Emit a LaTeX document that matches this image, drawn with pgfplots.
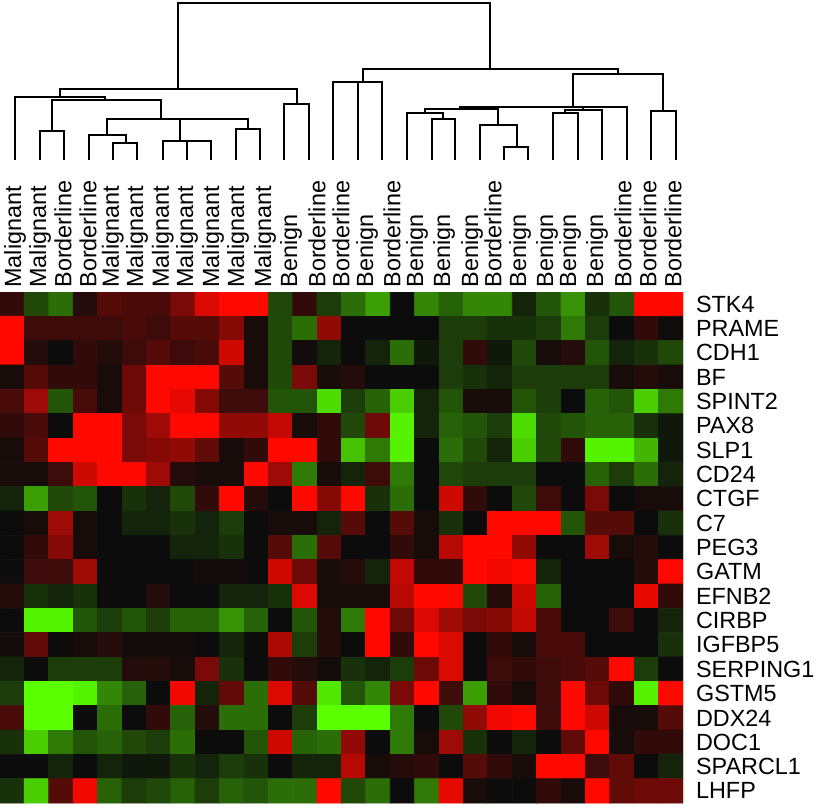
\documentclass[border=0pt]{standalone}
\usepackage{fontspec}
\setmainfont{Liberation Sans}
\usepackage{pgfplots}
\pgfplotsset{compat=1.18}
\pgfplotsset{
  colormap={redgreen}{rgb255=(90,255,0) rgb255=(12,12,12) rgb255=(255,8,0)},
  dend/.style={black, line width=1.1pt, line join=miter, forget plot},
}

\begin{document}
\begin{tikzpicture}
\useasboundingbox (0,0) rectangle (409.5pt,-404.5pt);
% dendrogram, pixel units (y down)
\begin{axis}[at={(0pt,0pt)}, anchor=north west, width=341.5pt, height=80pt,
  scale only axis, xmin=0, xmax=683, ymin=0, ymax=160, y dir=reverse,
  hide axis, clip=false]
\addplot[dend] coordinates {(40,160)(40,131)(64,131)(64,160)};
\addplot[dend] coordinates {(113,160)(113,143)(137,143)(137,160)};
\addplot[dend] coordinates {(89,160)(89,135)(126,135)(126,143)};
\addplot[dend] coordinates {(163,160)(163,141)(211,141)(211,160)};
\addplot[dend] coordinates {(187,160)(187,141)};
\addplot[dend] coordinates {(236,160)(236,129)(260,129)(260,160)};
\addplot[dend] coordinates {(107,135)(107,119)(248,119)(248,129)};
\addplot[dend] coordinates {(180,141)(180,119)};
\addplot[dend] coordinates {(52,131)(52,100)(161,100)(161,119)};
\addplot[dend] coordinates {(15,160)(15,97)(105,97)(105,100)};
\addplot[dend] coordinates {(284,160)(284,104)(309,104)(309,160)};
\addplot[dend] coordinates {(60,97)(60,89)(297,89)(297,104)};
\addplot[dend] coordinates {(333,160)(333,82)(382,82)(382,160)};
\addplot[dend] coordinates {(358,160)(358,82)};
\addplot[dend] coordinates {(432,160)(432,119)(455,119)(455,160)};
\addplot[dend] coordinates {(407,160)(407,113)(443,113)(443,119)};
\addplot[dend] coordinates {(504,160)(504,147)(528,147)(528,160)};
\addplot[dend] coordinates {(480,160)(480,125)(517,125)(517,147)};
\addplot[dend] coordinates {(425,113)(425,109)(498,109)(498,125)};
\addplot[dend] coordinates {(553,160)(553,113)(578,113)(578,160)};
\addplot[dend] coordinates {(565,113)(565,110)(602,110)(602,160)};
\addplot[dend] coordinates {(460,109)(460,107)(627,107)(627,160)};
\addplot[dend] coordinates {(583,110)(583,107)};
\addplot[dend] coordinates {(651,160)(651,111)(676,111)(676,160)};
\addplot[dend] coordinates {(573,107)(573,74)(663,74)(663,111)};
\addplot[dend] coordinates {(363,82)(363,69)(618,69)(618,74)};
\addplot[dend] coordinates {(178,89)(178,3)(490,3)(490,69)};
\end{axis}

% heat map
\begin{axis}[at={(0pt,-146pt)}, anchor=north west, width=341.5pt, height=255.5pt,
  scale only axis, xmin=-0.5, xmax=27.5, ymin=-0.5, ymax=20.5, enlargelimits=false,
  axis line style={draw=none}, major tick style={draw=none},
  colormap name=redgreen, point meta min=-1, point meta max=1,
  ytick={0,...,20},
  yticklabels={LHFP,SPARCL1,DOC1,DDX24,GSTM5,SERPING1,IGFBP5,CIRBP,EFNB2,GATM,PEG3,C7,CTGF,CD24,SLP1,PAX8,SPINT2,BF,CDH1,PRAME,STK4},
  yticklabel pos=right,
  yticklabel style={anchor=west, xshift=3pt, font=\fontsize{11.7}{12}\selectfont},
  xtick={0.115,1.14,2.08,3.11,4.13,5.12,6.18,7.17,8.23,9.26,10.37,11.43,12.5,13.48,14.55,15.57,16.6,17.7,18.85,19.71,20.82,21.93,22.87,23.98,25.04,26.07,27.09},
  xticklabels={Malignant,Malignant,Borderline,Borderline,Malignant,Malignant,Malignant,Malignant,Malignant,Malignant,Malignant,Benign,Borderline,Borderline,Benign,Borderline,Benign,Benign,Benign,Borderline,Benign,Benign,Benign,Benign,Borderline,Borderline,Borderline},
  xticklabel pos=right,
  xticklabel style={rotate=90, anchor=west, inner sep=2pt, font=\fontsize{11.7}{12}\selectfont},
]
\addplot[matrix plot*, mesh/cols=28, point meta=explicit] table[row sep=\\, meta=c] {
x y c\\
0 20 0.15\\ 1 20 -0.25\\ 2 20 -0.4\\ 3 20 0.1\\ 4 20 0.3\\ 5 20 0.25\\ 6 20 0.25\\ 7 20 0.45\\ 8 20 0.85\\ 9 20 1\\ 10 20 1\\ 11 20 -0.25\\ 12 20 0.15\\ 13 20 -0.2\\ 14 20 -0.4\\ 15 20 -0.6\\ 16 20 0\\ 17 20 -0.5\\ 18 20 -0.35\\ 19 20 -0.5\\ 20 20 -0.5\\ 21 20 -0.1\\ 22 20 -0.3\\ 23 20 -0.55\\ 24 20 -0.15\\ 25 20 -0.3\\ 26 20 1\\ 27 20 1\\
0 19 1\\ 1 19 0.2\\ 2 19 0.2\\ 3 19 0.2\\ 4 19 0.2\\ 5 19 0.25\\ 6 19 0.2\\ 7 19 0.3\\ 8 19 0.3\\ 9 19 0.5\\ 10 19 0.05\\ 11 19 -0.25\\ 12 19 -0.4\\ 13 19 0.55\\ 14 19 0\\ 15 19 0\\ 16 19 0\\ 17 19 0\\ 18 19 -0.2\\ 19 19 -0.2\\ 20 19 -0.15\\ 21 19 -0.15\\ 22 19 -0.2\\ 23 19 -0.45\\ 24 19 -0.2\\ 25 19 0\\ 26 19 0.15\\ 27 19 0.02\\
0 18 1\\ 1 18 0.1\\ 2 18 0\\ 3 18 0.15\\ 4 18 0.1\\ 5 18 0.2\\ 6 18 0.3\\ 7 18 0.2\\ 8 18 0.25\\ 9 18 0.8\\ 10 18 0.05\\ 11 18 -0.25\\ 12 18 0.03\\ 13 18 -0.1\\ 14 18 0\\ 15 18 -0.1\\ 16 18 -0.4\\ 17 18 -0.05\\ 18 18 -0.2\\ 19 18 0.15\\ 20 18 -0.05\\ 21 18 -0.25\\ 22 18 0.05\\ 23 18 0.1\\ 24 18 -0.3\\ 25 18 -0.1\\ 26 18 -0.15\\ 27 18 -0.25\\
0 17 0.05\\ 1 17 0.3\\ 2 17 0.15\\ 3 17 0.15\\ 4 17 0.05\\ 5 17 0.4\\ 6 17 1\\ 7 17 1\\ 8 17 1\\ 9 17 0.3\\ 10 17 0.05\\ 11 17 -0.25\\ 12 17 0.45\\ 13 17 0.05\\ 14 17 0.1\\ 15 17 0\\ 16 17 0\\ 17 17 0\\ 18 17 -0.2\\ 19 17 -0.15\\ 20 17 -0.1\\ 21 17 -0.2\\ 22 17 -0.2\\ 23 17 -0.2\\ 24 17 -0.2\\ 25 17 0.05\\ 26 17 0.1\\ 27 17 0.05\\
0 16 0.25\\ 1 16 0.6\\ 2 16 -0.3\\ 3 16 0.25\\ 4 16 0.05\\ 5 16 0.4\\ 6 16 1\\ 7 16 0.9\\ 8 16 0.5\\ 9 16 0.2\\ 10 16 0.2\\ 11 16 -0.3\\ 12 16 -0.3\\ 13 16 -0.85\\ 14 16 -0.2\\ 15 16 -0.35\\ 16 16 -0.8\\ 17 16 -0.1\\ 18 16 -0.3\\ 19 16 0.05\\ 20 16 0.05\\ 21 16 -0.3\\ 22 16 -0.2\\ 23 16 0\\ 24 16 -0.35\\ 25 16 -0.3\\ 26 16 -0.8\\ 27 16 -0.45\\
0 15 0.15\\ 1 15 0.25\\ 2 15 0\\ 3 15 1\\ 4 15 1\\ 5 15 0.45\\ 6 15 0.6\\ 7 15 1\\ 8 15 1\\ 9 15 0.55\\ 10 15 0.55\\ 11 15 0.75\\ 12 15 0.05\\ 13 15 0.15\\ 14 15 -0.25\\ 15 15 0.4\\ 16 15 -0.95\\ 17 15 -0.1\\ 18 15 -0.35\\ 19 15 -0.3\\ 20 15 -0.2\\ 21 15 -0.85\\ 22 15 -0.25\\ 23 15 -0.3\\ 24 15 -0.35\\ 25 15 -0.35\\ 26 15 -0.15\\ 27 15 -0.05\\
0 14 0.05\\ 1 14 0.3\\ 2 14 1\\ 3 14 1\\ 4 14 1\\ 5 14 0.45\\ 6 14 0.5\\ 7 14 0.55\\ 8 14 0.35\\ 9 14 0.05\\ 10 14 0.15\\ 11 14 1\\ 12 14 1\\ 13 14 0.15\\ 14 14 -0.75\\ 15 14 -0.45\\ 16 14 -0.95\\ 17 14 0\\ 18 14 -0.4\\ 19 14 -0.25\\ 20 14 -0.1\\ 21 14 -0.8\\ 22 14 -0.25\\ 23 14 0.15\\ 24 14 -0.95\\ 25 14 -0.95\\ 26 14 -0.7\\ 27 14 -0.05\\
0 13 0.05\\ 1 13 0.05\\ 2 13 0.2\\ 3 13 0.8\\ 4 13 1\\ 5 13 1\\ 6 13 0.6\\ 7 13 0.1\\ 8 13 0.05\\ 9 13 0.05\\ 10 13 1\\ 11 13 0.6\\ 12 13 -0.45\\ 13 13 0.05\\ 14 13 -0.1\\ 15 13 0.2\\ 16 13 -0.45\\ 17 13 0\\ 18 13 -0.25\\ 19 13 -0.2\\ 20 13 -0.2\\ 21 13 -0.2\\ 22 13 0\\ 23 13 0\\ 24 13 -0.35\\ 25 13 -0.2\\ 26 13 -0.4\\ 27 13 -0.1\\
0 12 -0.1\\ 1 12 -0.6\\ 2 12 -0.25\\ 3 12 -0.3\\ 4 12 0\\ 5 12 -0.15\\ 6 12 -0.1\\ 7 12 -0.25\\ 8 12 0.15\\ 9 12 1\\ 10 12 0.1\\ 11 12 0\\ 12 12 1\\ 13 12 0.5\\ 14 12 1\\ 15 12 -0.15\\ 16 12 -0.4\\ 17 12 0\\ 18 12 0.8\\ 19 12 0.15\\ 20 12 0\\ 21 12 -0.25\\ 22 12 0.2\\ 23 12 0\\ 24 12 0.45\\ 25 12 0\\ 26 12 0.05\\ 27 12 0.05\\
0 11 0\\ 1 11 0.05\\ 2 11 0.6\\ 3 11 0.05\\ 4 11 0\\ 5 11 -0.1\\ 6 11 -0.1\\ 7 11 -0.15\\ 8 11 -0.1\\ 9 11 -0.2\\ 10 11 0\\ 11 11 0.05\\ 12 11 0.05\\ 13 11 -0.1\\ 14 11 0.3\\ 15 11 0\\ 16 11 0.3\\ 17 11 0.05\\ 18 11 -0.15\\ 19 11 0\\ 20 11 1\\ 21 11 1\\ 22 11 1\\ 23 11 -0.3\\ 24 11 0.3\\ 25 11 0.3\\ 26 11 0\\ 27 11 -0.15\\
0 10 0\\ 1 10 0.15\\ 2 10 0.5\\ 3 10 0.05\\ 4 10 0\\ 5 10 0\\ 6 10 0\\ 7 10 -0.1\\ 8 10 -0.1\\ 9 10 -0.15\\ 10 10 0\\ 11 10 0.3\\ 12 10 -0.4\\ 13 10 0.3\\ 14 10 0\\ 15 10 0\\ 16 10 0.15\\ 17 10 0.05\\ 18 10 0.7\\ 19 10 1\\ 20 10 1\\ 21 10 0.55\\ 22 10 0\\ 23 10 0\\ 24 10 0.6\\ 25 10 0.05\\ 26 10 0.1\\ 27 10 0\\
0 9 0\\ 1 9 0.2\\ 2 9 0.2\\ 3 9 0.6\\ 4 9 0\\ 5 9 0\\ 6 9 0\\ 7 9 0\\ 8 9 0.03\\ 9 9 0.03\\ 10 9 0\\ 11 9 0.8\\ 12 9 0.4\\ 13 9 0.05\\ 14 9 0.1\\ 15 9 -0.1\\ 16 9 0.75\\ 17 9 0.15\\ 18 9 0.15\\ 19 9 1\\ 20 9 0.95\\ 21 9 1\\ 22 9 -0.1\\ 23 9 0\\ 24 9 0\\ 25 9 0\\ 26 9 0.1\\ 27 9 1\\
0 8 0.1\\ 1 8 -0.15\\ 2 8 -0.1\\ 3 8 -0.15\\ 4 8 0\\ 5 8 0\\ 6 8 0.1\\ 7 8 0\\ 8 8 0\\ 9 8 -0.1\\ 10 8 -0.1\\ 11 8 -0.15\\ 12 8 0.85\\ 13 8 0.05\\ 14 8 0.05\\ 15 8 0.05\\ 16 8 0.7\\ 17 8 1\\ 18 8 1\\ 19 8 -0.25\\ 20 8 0.1\\ 21 8 0.8\\ 22 8 -0.35\\ 23 8 0\\ 24 8 0\\ 25 8 0\\ 26 8 0.9\\ 27 8 0.15\\
0 7 0\\ 1 7 -0.95\\ 2 7 -0.95\\ 3 7 -0.3\\ 4 7 -0.2\\ 5 7 -0.3\\ 6 7 -0.2\\ 7 7 -0.35\\ 8 7 -0.35\\ 9 7 -0.55\\ 10 7 -0.35\\ 11 7 0\\ 12 7 -0.3\\ 13 7 0.1\\ 14 7 -0.45\\ 15 7 1\\ 16 7 0.4\\ 17 7 0.85\\ 18 7 0.6\\ 19 7 0.45\\ 20 7 0.5\\ 21 7 0.75\\ 22 7 0.25\\ 23 7 0\\ 24 7 0\\ 25 7 0.2\\ 26 7 0\\ 27 7 -0.1\\
0 6 0.03\\ 1 6 0.35\\ 2 6 0\\ 3 6 0.05\\ 4 6 0.1\\ 5 6 0.03\\ 6 6 0.03\\ 7 6 0.03\\ 8 6 0\\ 9 6 -0.1\\ 10 6 0\\ 11 6 0.65\\ 12 6 -0.2\\ 13 6 0.1\\ 14 6 0\\ 15 6 1\\ 16 6 0.15\\ 17 6 1\\ 18 6 0.85\\ 19 6 0\\ 20 6 0.15\\ 21 6 0.05\\ 22 6 0.25\\ 23 6 0.25\\ 24 6 0\\ 25 6 0\\ 26 6 0\\ 27 6 -0.15\\
0 5 -0.1\\ 1 5 0\\ 2 5 -0.2\\ 3 5 -0.2\\ 4 5 -0.2\\ 5 5 0.1\\ 6 5 0.1\\ 7 5 0.05\\ 8 5 0.45\\ 9 5 -0.15\\ 10 5 0\\ 11 5 0.15\\ 12 5 0.1\\ 13 5 0.03\\ 14 5 -0.15\\ 15 5 -0.1\\ 16 5 -0.2\\ 17 5 0.4\\ 18 5 0.85\\ 19 5 0\\ 20 5 0.2\\ 21 5 0.15\\ 22 5 0.2\\ 23 5 0.25\\ 24 5 0.3\\ 25 5 1\\ 26 5 -0.2\\ 27 5 0\\
0 4 -0.2\\ 1 4 -1\\ 2 4 -1\\ 3 4 -0.95\\ 4 4 -0.5\\ 5 4 -0.35\\ 6 4 0\\ 7 4 0.95\\ 8 4 -0.1\\ 9 4 0.35\\ 10 4 -0.4\\ 11 4 0.85\\ 12 4 0.3\\ 13 4 -0.9\\ 14 4 -0.3\\ 15 4 -0.5\\ 16 4 0.45\\ 17 4 1\\ 18 4 0.2\\ 19 4 -0.6\\ 20 4 0.15\\ 21 4 0.05\\ 22 4 0.2\\ 23 4 1\\ 24 4 0.4\\ 25 4 0.15\\ 26 4 -0.95\\ 27 4 1\\
0 3 0.25\\ 1 3 -1\\ 2 3 -1\\ 3 3 0\\ 4 3 -0.4\\ 5 3 0\\ 6 3 0.15\\ 7 3 -0.35\\ 8 3 0.1\\ 9 3 -0.4\\ 10 3 -0.4\\ 11 3 0\\ 12 3 -0.2\\ 13 3 -1\\ 14 3 -1\\ 15 3 -1\\ 16 3 -0.45\\ 17 3 0\\ 18 3 -0.25\\ 19 3 0.55\\ 20 3 0.95\\ 21 3 1\\ 22 3 0.2\\ 23 3 1\\ 24 3 0.8\\ 25 3 0.05\\ 26 3 0.05\\ 27 3 0.3\\
0 2 -0.15\\ 1 2 -0.8\\ 2 2 -0.45\\ 3 2 -0.3\\ 4 2 -0.35\\ 5 2 -0.25\\ 6 2 -0.2\\ 7 2 -0.4\\ 8 2 0\\ 9 2 0\\ 10 2 -0.3\\ 11 2 0.8\\ 12 2 -0.35\\ 13 2 -0.4\\ 14 2 0.55\\ 15 2 0\\ 16 2 -0.45\\ 17 2 0.05\\ 18 2 0.6\\ 19 2 -0.15\\ 20 2 0\\ 21 2 -0.1\\ 22 2 0\\ 23 2 0.35\\ 24 2 1\\ 25 2 0.05\\ 26 2 0.15\\ 27 2 0.15\\
0 1 0\\ 1 1 0\\ 2 1 -0.1\\ 3 1 0\\ 4 1 -0.1\\ 5 1 -0.05\\ 6 1 -0.05\\ 7 1 -0.15\\ 8 1 -0.1\\ 9 1 -0.2\\ 10 1 -0.15\\ 11 1 0\\ 12 1 -0.1\\ 13 1 -0.1\\ 14 1 0.7\\ 15 1 0.05\\ 16 1 0.1\\ 17 1 0.15\\ 18 1 0\\ 19 1 0.3\\ 20 1 0.15\\ 21 1 0.05\\ 22 1 1\\ 23 1 1\\ 24 1 0.2\\ 25 1 0.35\\ 26 1 0\\ 27 1 -0.1\\
0 0 -0.15\\ 1 0 -0.8\\ 2 0 0.3\\ 3 0 0.95\\ 4 0 -0.35\\ 5 0 -0.2\\ 6 0 -0.25\\ 7 0 -0.35\\ 8 0 -0.2\\ 9 0 -0.35\\ 10 0 -0.3\\ 11 0 -0.4\\ 12 0 -0.4\\ 13 0 1\\ 14 0 -0.25\\ 15 0 -0.4\\ 16 0 0\\ 17 0 -0.45\\ 18 0 0.9\\ 19 0 0.05\\ 20 0 0\\ 21 0 0\\ 22 0 0.15\\ 23 0 0.05\\ 24 0 1\\ 25 0 0.35\\ 26 0 0.4\\ 27 0 0.4\\
};
\end{axis}
\end{tikzpicture}
\end{document}
